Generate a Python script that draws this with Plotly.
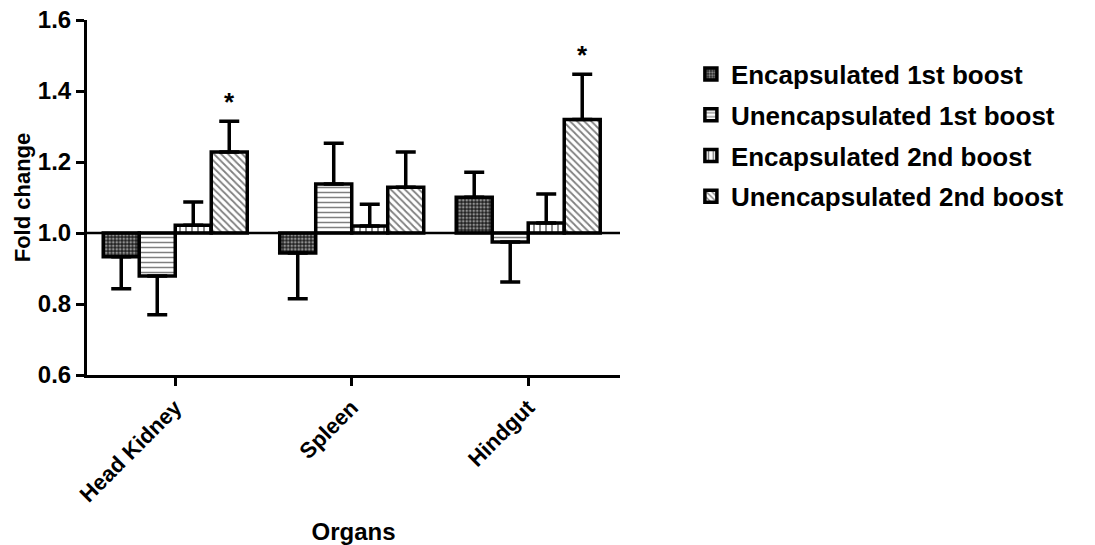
import plotly.graph_objects as go

categories = ["Head Kidney", "Spleen", "Hindgut"]
series_names = ["Encapsulated 1st boost", "Unencapsulated 1st boost",
                "Encapsulated 2nd boost", "Unencapsulated 2nd boost"]
enc1 = [0.933, 0.944, 1.101]
enc1_err = [0.090, 0.129, 0.070]
unenc1 = [0.879, 1.138, 0.975]
unenc1_err = [0.109, 0.115, 0.113]
enc2 = [1.022, 1.020, 1.028]
enc2_err = [0.065, 0.061, 0.082]
unenc2 = [1.228, 1.129, 1.320]
unenc2_err = [0.087, 0.099, 0.127]
significant = [True, False, True]  # for Unencapsulated 2nd boost
baseline = 1.0

values = [enc1, unenc1, enc2, unenc2]
errors = [enc1_err, unenc1_err, enc2_err, unenc2_err]
patterns = [
    dict(shape=".", bgcolor="#222222", fgcolor="white", size=3.5, solidity=0.45),
    dict(shape="-", bgcolor="white", fgcolor="black", size=5, solidity=0.3),
    dict(shape="|", bgcolor="white", fgcolor="black", size=6, solidity=0.3),
    dict(shape="\\", bgcolor="white", fgcolor="black", size=5, solidity=0.35),
]

FONT = "Liberation Sans, Arial, sans-serif"
bar_w = 0.204
n = len(series_names)
fig = go.Figure()

for j, (name, vals, errs, pat) in enumerate(zip(series_names, values, errors, patterns)):
    xs = [i + (j - (n - 1) / 2) * bar_w for i in range(len(categories))]
    fig.add_trace(go.Bar(
        x=xs, y=[v - baseline for v in vals], base=baseline, width=bar_w,
        name=name, legendgroup=name,
        marker=dict(color="white", pattern=pat, line=dict(color="black", width=3.5)),
    ))
    up = [e if v >= baseline else 0 for v, e in zip(vals, errs)]
    down = [e if v < baseline else 0 for v, e in zip(vals, errs)]
    fig.add_trace(go.Scatter(
        x=xs, y=vals, mode="markers", marker=dict(size=1, opacity=0),
        showlegend=False, hoverinfo="skip",
        error_y=dict(type="data", symmetric=False, array=up, arrayminus=down,
                     color="black", thickness=3.5, width=10),
    ))

# significance stars
xs4 = [i + (3 - (n - 1) / 2) * bar_w for i in range(len(categories))]
for i, sig in enumerate(significant):
    if sig:
        fig.add_annotation(x=xs4[i], y=unenc2[i] + unenc2_err[i], text="*",
                           showarrow=False, yanchor="bottom", yshift=2,
                           font=dict(family=FONT, size=26, color="black", weight="bold"))

fig.add_shape(type="line", xref="paper", x0=0, x1=1, yref="y", y0=baseline, y1=baseline,
              line=dict(color="black", width=2.5), layer="above")

fig.update_layout(
    width=1095, height=545,
    margin=dict(l=87, r=475, t=20, b=170, autoexpand=False),
    plot_bgcolor="white", paper_bgcolor="white",
    barmode="overlay",
    font=dict(family=FONT, color="black", weight="bold"),
    showlegend=True,
    legend=dict(x=1.133, y=0.914, xanchor="left", yanchor="top",
                font=dict(family=FONT, size=26, color="black", weight="bold"),
                tracegroupgap=4, itemwidth=30, bgcolor="rgba(0,0,0,0)"),
    xaxis=dict(range=[-0.5, 2.52], tickvals=list(range(len(categories))), ticktext=categories,
               tickangle=-45, showgrid=False, zeroline=False, showline=True, automargin=False,
               linecolor="black", linewidth=3, ticks="outside", ticklen=8, tickwidth=3,
               tickcolor="black", tickfont=dict(family=FONT, size=22, weight="bold"),
               title=dict(text="Organs", font=dict(family=FONT, size=24, weight="bold"), standoff=18)),
    yaxis=dict(range=[0.6, 1.6], tickvals=[0.6, 0.8, 1.0, 1.2, 1.4, 1.6],
               ticktext=["0.6", "0.8", "1.0", "1.2", "1.4", "1.6"],
               showgrid=False, zeroline=False, showline=True, automargin=False,
               linecolor="black", linewidth=3, ticks="outside", ticklen=8, tickwidth=3,
               tickcolor="black", tickfont=dict(family=FONT, size=24, weight="bold"),
               title=dict(text="Fold change", font=dict(family=FONT, size=22, weight="bold"), standoff=2)),
)

fig.write_html("out.html")
